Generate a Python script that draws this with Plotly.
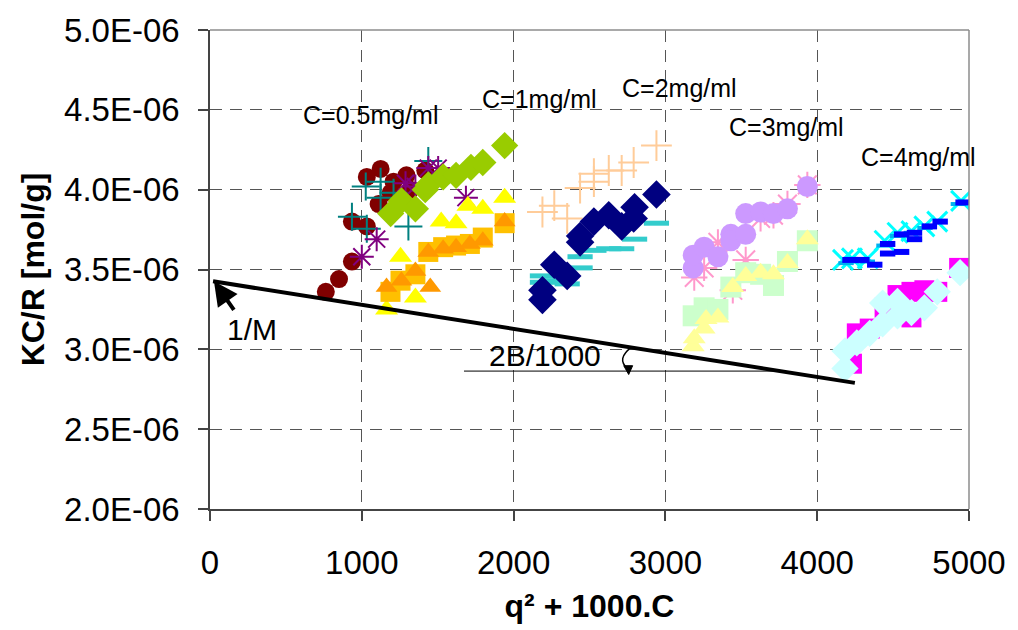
import plotly.graph_objects as go

E6 = 1e-6  # y values below are given in units of 1E-06 mol/g

# ---- data (x = q^2 + 1000.C, y = KC/R in 1E-06 mol/g) ----
red_circ_x = [763, 850, 935, 935, 1033, 1033, 1124, 1111, 1209, 1294, 1320, 1418, 1190]
red_circ_y = [3.36, 3.44, 3.55, 3.80, 3.77, 4.08, 4.13, 3.91, 4.05, 4.09, 4.00, 4.12, 3.98]

teal_plus_x = [935, 1033, 1026, 1124, 1124, 1209, 1307, 1438]
teal_plus_y = [3.83, 3.755, 4.02, 4.05, 3.95, 3.98, 3.77, 4.18]

purple_ast_x = [1000, 1098, 1288, 1353, 1438, 1503, 1686]
purple_ast_y = [3.58, 3.69, 4.04, 4.02, 4.135, 4.135, 3.95]

green_dia_x = [1190, 1261, 1353, 1418, 1438, 1536, 1621, 1719, 1797, 1941]
green_dia_y = [3.85, 3.93, 3.88, 4.00, 4.03, 4.08, 4.09, 4.14, 4.17, 4.276]

yellow_tri_x = [1163, 1255, 1353, 1523, 1621, 1699, 1797, 1941]
yellow_tri_y = [3.25, 3.58, 3.325, 3.80, 3.79, 3.90, 3.88, 3.95]

amber_sq_x = [1189, 1255, 1353, 1438, 1536, 1621, 1712, 1797, 1941]
amber_sq_y = [3.36, 3.43, 3.47, 3.61, 3.64, 3.65, 3.66, 3.70, 3.79]

orange_tri_x = [1163, 1261, 1353, 1451, 1438, 1536, 1621, 1712, 1797, 1941]
orange_tri_y = [3.39, 3.43, 3.49, 3.39, 3.61, 3.63, 3.64, 3.66, 3.68, 3.80]

peach_plus_x = [2190, 2268, 2353, 2438, 2529, 2529, 2627, 2712, 2791, 2941]
peach_plus_y = [3.86, 3.90, 3.82, 4.01, 4.05, 4.10, 4.12, 4.12, 4.17, 4.276]

navy_dia_x = [2190, 2190, 2268, 2353, 2438, 2438, 2529, 2627, 2712, 2791, 2797, 2941]
navy_dia_y = [3.31, 3.37, 3.53, 3.46, 3.67, 3.71, 3.80, 3.84, 3.77, 3.82, 3.89, 3.97]

teal_dash_x = [2190, 2190, 2268, 2353, 2438, 2438, 2529, 2627, 2712, 2797, 2941]
teal_dash_y = [3.46, 3.42, 3.43, 3.41, 3.51, 3.58, 3.62, 3.63, 3.63, 3.69, 3.79]

pink_ast_x = [3190, 3255, 3346, 3444, 3529, 3627, 3712, 3804, 3935]
pink_ast_y = [3.45, 3.51, 3.67, 3.37, 3.56, 3.82, 3.84, 3.91, 4.03]

lav_circ_x = [3183, 3183, 3255, 3346, 3431, 3431, 3529, 3529, 3627, 3712, 3804, 3935]
lav_circ_y = [3.51, 3.59, 3.64, 3.58, 3.72, 3.68, 3.72, 3.85, 3.86, 3.85, 3.88, 4.02]

lgreen_sq_x = [3183, 3255, 3346, 3431, 3529, 3627, 3712, 3804, 3935]
lgreen_sq_y = [3.21, 3.26, 3.25, 3.39, 3.48, 3.47, 3.40, 3.55, 3.68]

lyellow_tri_x = [3183, 3190, 3255, 3268, 3346, 3444, 3529, 3627, 3712, 3804, 3935]
lyellow_tri_y = [3.02, 3.07, 3.13, 3.19, 3.20, 3.39, 3.46, 3.48, 3.47, 3.54, 3.69]

cyan_x_x = [4170, 4229, 4333, 4444, 4529, 4621, 4706, 4791, 4948]
cyan_x_y = [3.56, 3.57, 3.57, 3.68, 3.73, 3.74, 3.77, 3.80, 3.93]

blue_dash_x = [4216, 4294, 4379, 4464, 4464, 4556, 4556, 4641, 4641, 4739, 4810, 4961]
blue_dash_y = [3.56, 3.56, 3.53, 3.66, 3.60, 3.72, 3.61, 3.73, 3.69, 3.77, 3.80, 3.92]

sky_dash_x = [4190, 4260, 4330, 4440, 4530, 4620, 4710, 4930]
sky_dash_y = [3.54, 3.55, 3.55, 3.65, 3.71, 3.73, 3.76, 3.91]

magenta_sq_x = [4229, 4261, 4346, 4444, 4529, 4621, 4621, 4706, 4791, 4935]
magenta_sq_y = [2.91, 3.10, 3.13, 3.26, 3.34, 3.36, 3.20, 3.37, 3.36, 3.51]

lcyan_dia_x = [4183, 4183, 4261, 4346, 4431, 4431, 4529, 4529, 4621, 4706, 4791, 4941]
lcyan_dia_y = [2.88, 2.99, 3.04, 3.10, 3.16, 3.29, 3.21, 3.30, 3.23, 3.26, 3.36, 3.48]

# extrapolation line (c -> 0)
fit_x = [20, 4248]
fit_y = [3.426, 2.790]

conc_labels = ["C=0.5mg/ml", "C=1mg/ml", "C=2mg/ml", "C=3mg/ml", "C=4mg/ml"]
conc_label_x = [1059, 2170, 3092, 3797, 4667]
conc_label_y = [4.465, 4.570, 4.637, 4.391, 4.207]

x_ticks = [0, 1000, 2000, 3000, 4000, 5000]
y_ticks = [2.0, 2.5, 3.0, 3.5, 4.0, 4.5, 5.0]
y_tick_text = ["%.1fE-06" % v for v in y_ticks]

FONT = "Liberation Sans, Arial, sans-serif"

fig = go.Figure()


def add(xs, ys, symbol, color, size, lw=0, lcolor=None):
    fig.add_trace(go.Scatter(
        x=xs, y=[v * E6 for v in ys], mode="markers", showlegend=False,
        marker=dict(symbol=symbol, color=color, size=size,
                    line=dict(width=lw, color=lcolor or color))))


# order: background series first
add(red_circ_x, red_circ_y, "circle", "#800000", 18)
add(teal_plus_x, teal_plus_y, "cross-thin", "#008080", 20, 2)
add(purple_ast_x, purple_ast_y, "asterisk", "#800080", 20, 2)
add(green_dia_x, green_dia_y, "diamond", "#99CC00", 21)
add(yellow_tri_x, yellow_tri_y, "triangle-up", "#FFFF00", 20)
add(amber_sq_x, amber_sq_y, "square", "#FFC000", 20)
add(orange_tri_x, orange_tri_y, "triangle-up", "#FF9900", 19)
add(peach_plus_x, peach_plus_y, "cross-thin", "#FFCC99", 22, 2)
add(teal_dash_x, teal_dash_y, "line-ew", "#33CCCC", 18, 5)
add(navy_dia_x, navy_dia_y, "diamond", "#000080", 22)
add(pink_ast_x, pink_ast_y, "asterisk", "#FF99CC", 22, 2)
add(lav_circ_x, lav_circ_y, "circle", "#CC99FF", 21)
add(lgreen_sq_x, lgreen_sq_y, "square", "#CCFFCC", 21)
add(lyellow_tri_x, lyellow_tri_y, "triangle-up", "#FFFF99", 20)
add(cyan_x_x, cyan_x_y, "x-thin", "#00FFFF", 20, 3)
add(sky_dash_x, sky_dash_y, "line-ew", "#00B0F0", 11, 4)
add(blue_dash_x, blue_dash_y, "line-ew", "#0000FF", 11, 6)
add(magenta_sq_x, magenta_sq_y, "square", "#FF00FF", 20)
add(lcyan_dia_x, lcyan_dia_y, "diamond", "#CCFFFF", 21)

fig.add_trace(go.Scatter(x=fit_x, y=[v * E6 for v in fit_y], mode="lines",
                         line=dict(color="black", width=4), showlegend=False))

ann = []
for t, x, y in zip(conc_labels, conc_label_x, conc_label_y):
    ann.append(dict(x=x, y=y * E6, text=t, showarrow=False,
                    font=dict(size=25, color="black", family=FONT)))
ann.append(dict(x=2209, y=2.959 * E6, text="2B/1000", showarrow=False,
                font=dict(size=30, color="black", family=FONT)))
ann.append(dict(x=275, y=3.125 * E6, text="1/M", showarrow=False,
                font=dict(size=30, color="black", family=FONT)))
ann.append(dict(x=26, y=3.426 * E6, text="", showarrow=True, ax=21, ay=30,
                arrowhead=2, arrowsize=1.2, arrowwidth=4, arrowcolor="black"))


def px2paper(px, py):
    return (px - 210) / 765.0, (515 - py) / 488.0


shapes = []
# thin reference line under the slope
x0, y0 = px2paper(466, 374.5)
x1, y1 = px2paper(782, 374.5)
shapes.append(dict(type="line", xref="paper", yref="paper", x0=x0, y0=y0, x1=x1, y1=y1,
                   line=dict(color="black", width=1)))
# curved arrow
pts = [px2paper(*p) for p in [(635, 350), (619, 362), (631, 372)]]
shapes.append(dict(type="path", xref="paper", yref="paper",
                   path="M %f %f Q %f %f %f %f" % (pts[0] + pts[1] + pts[2]),
                   line=dict(color="black", width=1.5)))
hp = [px2paper(*p) for p in [(627, 369), (636, 369), (632, 378)]]
shapes.append(dict(type="path", xref="paper", yref="paper",
                   path="M %f %f L %f %f L %f %f Z" % (hp[0] + hp[1] + hp[2]),
                   fillcolor="black", line=dict(color="black", width=1)))
# top and right borders
shapes.append(dict(type="line", xref="paper", yref="paper", x0=0, y0=1, x1=1, y1=1,
                   line=dict(color="#8c8c8c", width=1.5)))
shapes.append(dict(type="line", xref="paper", yref="paper", x0=1, y0=0, x1=1, y1=1,
                   line=dict(color="#8c8c8c", width=1.5)))

fig.update_layout(
    width=1018, height=630,
    margin=dict(l=210, r=43, t=27, b=115),
    paper_bgcolor="white", plot_bgcolor="white",
    font=dict(family=FONT, color="black"),
    annotations=ann, shapes=shapes,
    xaxis=dict(range=[0, 5000], tickvals=x_ticks, showgrid=True, gridcolor="#555555",
               griddash="12px,8px", gridwidth=1, zeroline=False,
               showline=True, linecolor="#444444", linewidth=1.5,
               ticks="outside", ticklen=10, tickcolor="#444444", tickwidth=1.5,
               tickfont=dict(size=33, family=FONT, color="black"),
               ticklabelstandoff=14,
               title=dict(text="<b>q² + 1000.C</b>", standoff=14,
                          font=dict(size=32, family=FONT, color="black"))),
    yaxis=dict(range=[2.0 * E6, 5.0 * E6], tickvals=[v * E6 for v in y_ticks],
               ticktext=y_tick_text, showgrid=True, gridcolor="#555555",
               griddash="12px,8px", gridwidth=1, zeroline=False,
               showline=True, linecolor="#444444", linewidth=1.5,
               ticks="outside", ticklen=10, tickcolor="#444444", tickwidth=1.5,
               tickfont=dict(size=33, family=FONT, color="black"),
               ticklabelstandoff=12,
               title=dict(text="<b>KC/R [mol/g]</b>", standoff=10,
                          font=dict(size=32, family=FONT, color="black"))),
)

fig.write_html("out.html", config={"displayModeBar": False},
               post_script="document.body.style.margin='0';")
